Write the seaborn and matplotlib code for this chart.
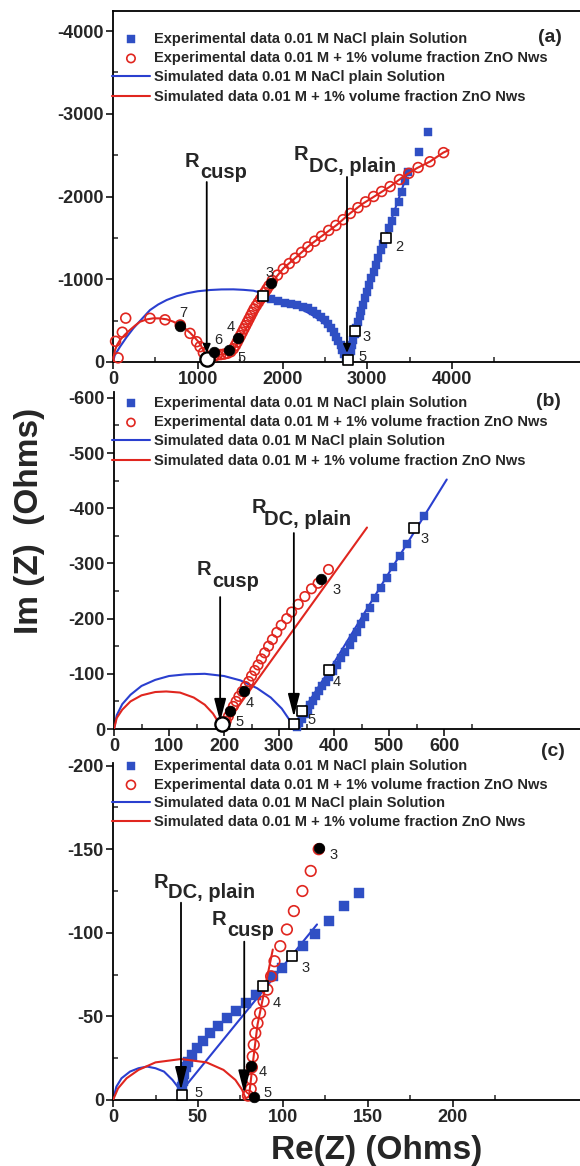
import matplotlib
matplotlib.use("Agg")
import matplotlib.pyplot as plt
import seaborn as sns

# ---------------- panel (a) ----------------
a_plain_exp_x = [1790, 1870, 1950, 2030, 2100, 2170, 2240, 2300, 2360, 2410, 2460, 2500, 2540, 2575, 2605,
                 2635, 2660, 2685, 2705, 2725, 2745, 2790, 2805, 2820, 2835, 2850, 2870, 2890, 2910, 2930,
                 2950, 2975, 3000, 3025, 3050, 3075, 3100, 3130, 3160, 3190, 3260, 3290, 3330, 3370, 3410,
                 3450, 3485, 3610, 3715]
a_plain_exp_y = [-790, -760, -735, -715, -700, -690, -670, -650, -620, -585, -545, -505, -460, -410, -360,
                 -305, -255, -200, -150, -100, -55, -60, -130, -200, -270, -340, -410, -480, -550, -620,
                 -690, -770, -850, -930, -1010, -1090, -1170, -1260, -1350, -1430, -1620, -1700, -1810, -1930, -2060,
                 -2190, -2300, -2540, -2780]
a_zno_exp_x = [60, 30, 110, 150, 437, 614, 793, 909, 987, 1027, 1066, 1095,
               1150, 1190, 1230, 1270, 1310, 1350, 1390, 1420, 1445, 1465, 1485, 1505, 1525, 1545, 1565, 1585,
               1605, 1625, 1645, 1665, 1690, 1715, 1740, 1765, 1790, 1815, 1840,
               1880, 1940, 2010, 2080, 2150, 2225, 2300, 2380, 2460, 2545, 2630, 2715, 2800, 2890, 2980, 3075,
               3170, 3270, 3380, 3490, 3600, 3740, 3900]
a_zno_exp_y = [-50, -250, -360, -530, -528, -510, -447, -346, -245, -185, -113, -50,
               -45, -70, -85, -90, -95, -105, -125, -160, -200, -240, -280, -320, -360, -400, -440, -480,
               -520, -560, -600, -640, -680, -720, -760, -800, -840, -880, -920,
               -985, -1050, -1125, -1190, -1255, -1325, -1390, -1460, -1520, -1590, -1650, -1720, -1795, -1865, -1935, -2000,
               -2060, -2120, -2205, -2280, -2350, -2420, -2530]
a_plain_sim_x = [0, 20, 83, 160, 240, 340, 437, 533, 633, 750, 870, 1000, 1145, 1280, 1420, 1540, 1656, 1774,
                 1900, 2050, 2200, 2330, 2450, 2550, 2630, 2690, 2735, 2765, 2790, 2820, 2950, 3100, 3250, 3380, 3490]
a_plain_sim_y = [0, -80, -185, -300, -407, -520, -628, -695, -749, -795, -830, -855, -870, -877, -878, -872, -862, -830,
                 -770, -710, -650, -580, -500, -410, -310, -210, -110, -30, -10, -150, -600, -1120, -1620, -2000, -2330]
a_zno_sim_x = [0, 10, 24, 50, 83, 140, 200, 260, 319, 400, 476, 550, 633, 710, 790, 850, 909, 960, 1007, 1040,
               1066, 1090, 1105, 1115, 1145, 1180, 1223, 1280, 1341, 1390, 1420, 1460, 1499, 1550, 1597, 1650,
               1696, 1745, 1794, 1850, 1920, 2010, 2167, 2324, 2481, 2640, 2797, 2953, 3111, 3268, 3426, 3583,
               3740, 3898, 3960]
a_zno_sim_y = [0, -70, -145, -210, -266, -330, -387, -440, -487, -515, -528, -527, -516, -488, -447, -405, -354, -300, -245, -195,
               -145, -95, -50, -15, -32, -60, -85, -92, -97, -115, -145, -210, -286, -370, -447, -530,
               -608, -700, -789, -880, -1020, -1131, -1272, -1414, -1535, -1656, -1797, -1917, -2018, -2119, -2240, -2341,
               -2422, -2531, -2560]
a_white_sq_x = [1770, 2773, 2860, 3225]
a_white_sq_y = [-800, -30, -380, -1500]
a_white_circ_x = [1106]
a_white_circ_y = [-40]
a_black_x = [793, 1195, 1370, 1475, 1865]
a_black_y = [-440, -120, -150, -295, -950]
a_freq_text = ["7", "6", "5", "4", "3", "3", "2", "5"]
a_freq_x = [835, 1244, 1516, 1384, 1847, 2993, 3380, 2940]
a_freq_y = [-590, -266, -48, -427, -1072, -306, -1393, -64]

# ---------------- panel (b) ----------------
b_plain_exp_x = [332, 337, 342, 347, 352, 357, 362, 367, 373, 379, 385, 391, 398, 405, 412, 420, 429, 435, 441, 449,
                 456, 465, 475, 485, 496, 508, 520, 532, 564]
b_plain_exp_y = [-4, -11, -19, -27, -35, -43, -51, -59, -68, -77, -86, -95, -105, -116, -128, -140, -152, -164, -176, -190,
                 -203, -219, -237, -255, -273, -293, -313, -336, -386]
b_zno_exp_x = [200, 204, 208, 212, 217, 222, 227, 233, 239, 245, 250, 256, 262, 268, 274, 281, 288, 296, 304, 314,
               323, 335, 347, 359, 371, 390]
b_zno_exp_y = [-5, -14, -23, -32, -41, -50, -59, -68, -77, -86, -96, -106, -116, -127, -138, -150, -162, -175, -188, -200,
               -212, -226, -240, -254, -264, -289]
b_plain_sim_x = [0, 5, 15, 30, 50, 75, 100, 130, 165, 200, 230, 260, 285, 305, 318, 326, 400, 500, 605]
b_plain_sim_y = [0, -25, -45, -62, -78, -89, -96, -99, -100, -96, -88, -74, -57, -37, -18, -5, -120, -283, -452]
b_zno_sim_x = [0, 5, 15, 30, 50, 75, 95, 120, 145, 165, 180, 190, 195, 200, 460]
b_zno_sim_y = [0, -20, -35, -50, -61, -67, -68, -66, -57, -44, -28, -12, -3, -5, -365]
b_white_sq_x = [327, 341, 391, 546]
b_white_sq_y = [-9, -33, -106, -364]
b_white_circ_x = [196]
b_white_circ_y = [-9]
b_black_x = [211, 236, 376]
b_black_y = [-33, -68, -271]
b_freq_text = ["3", "4", "5", "3", "4", "5"]
b_freq_x = [404, 247, 229, 565, 405, 359]
b_freq_y = [-252, -47, -13, -345, -86, -16]

# ---------------- panel (c) ----------------
c_plain_exp_x = [40.6, 41, 42, 43.2, 44.3, 46.5, 49.7, 53, 57.3, 61.6, 67, 72.4, 78.5, 84.3, 94, 99.5, 112, 119,
                 127, 136, 145]
c_plain_exp_y = [-7.6, -11.5, -15.5, -19.5, -23, -27, -31, -35, -40, -44, -49, -53, -58, -62.7, -74, -79, -92, -99,
                 -107, -116, -123.6]
c_zno_exp_x = [79.4, 81, 81.5, 81.7, 82.2, 82.8, 83.7, 85, 86.5, 88.6, 90.8, 93, 95, 98.4, 102.3, 106.4, 111.4,
               116.3, 121]
c_zno_exp_y = [-2.6, -6.6, -12.5, -19.5, -26, -33, -40, -46, -52, -59, -66, -74, -83, -92, -102, -113, -125,
               -137, -150]
c_plain_sim_x = [0, 2, 5, 10, 15, 20, 25, 30, 35, 38, 40, 120]
c_plain_sim_y = [0, -8, -13, -17, -19, -20, -19, -17, -12, -8, -5, -105]
c_zno_sim_x = [0, 3, 8, 15, 25, 40, 55, 65, 72, 76, 78, 80, 82, 85, 90, 94]
c_zno_sim_y = [0, -7, -13, -18, -22.5, -24.5, -22.5, -18, -12, -6, -1, -2, -20, -45, -70, -90]
c_white_sq_x = [40.4, 88, 105.5]
c_white_sq_y = [-3, -68, -86]
c_white_circ_x = []
c_white_circ_y = []
c_black_x = [81, 82.8, 121]
c_black_y = [-20.5, -1.6, -151]
c_freq_text = ["3", "4", "5", "3", "4", "5"]
c_freq_x = [113.5, 96.2, 50.4, 129.8, 88, 90.8]
c_freq_y = [-79, -58, -4.4, -146.5, -17, -4.4]

legend_labels = [
    "Experimental data 0.01 M NaCl plain Solution",
    "Experimental data 0.01 M + 1% volume fraction ZnO Nws",
    "Simulated data 0.01 M NaCl plain Solution",
    "Simulated data 0.01 M + 1% volume fraction ZnO Nws",
]

BLUE = "#2f4fc4"
BLUE_LINE = "#2a3fcf"
RED = "#e0261f"

W, H = 580, 1166


def fig_rect(left, top, right, bottom):
    return [left / W, 1 - bottom / H, (right - left) / W, (bottom - top) / H]


def draw_panel(fig, p):
    ax = fig.add_axes(fig_rect(*p["box"]))
    sns.lineplot(x=p["plain_sim"][0], y=p["plain_sim"][1], sort=False, estimator=None,
                 color=BLUE_LINE, linewidth=1.5, ax=ax, label=legend_labels[2], zorder=2)
    sns.scatterplot(x=p["plain_exp"][0], y=p["plain_exp"][1], marker="s", s=p["sq_size"],
                    color=BLUE, edgecolor=BLUE, linewidth=0.3, ax=ax, label=legend_labels[0],
                    clip_on=False, zorder=3)
    sns.scatterplot(x=p["zno_exp"][0], y=p["zno_exp"][1], marker="o", s=p["circ_size"],
                    color=RED, facecolor="none", edgecolor=RED, linewidth=1.2, ax=ax,
                    label=legend_labels[1], clip_on=False, zorder=4)
    sns.lineplot(x=p["zno_sim"][0], y=p["zno_sim"][1], sort=False, estimator=None,
                 color=RED, linewidth=1.5, ax=ax, label=legend_labels[3], zorder=5)

    sns.scatterplot(x=p["white_sq"][0], y=p["white_sq"][1], marker="s", s=58, color="white",
                    edgecolor="black", linewidth=1.2, ax=ax, legend=False, clip_on=False, zorder=7)
    if p["white_circ"][0]:
        sns.scatterplot(x=p["white_circ"][0], y=p["white_circ"][1], marker="o", s=105, color="white",
                        edgecolor="black", linewidth=1.7, ax=ax, legend=False, clip_on=False, zorder=7)
    sns.scatterplot(x=p["black"][0], y=p["black"][1], marker="o", s=58, color="black",
                    edgecolor="black", linewidth=0.5, ax=ax, legend=False, clip_on=False, zorder=7)

    for t, x, y in zip(*p["freq"]):
        ax.text(x, y, t, ha="center", va="center", fontsize=10.5, fontweight="normal", zorder=8)

    for (rx, ry), (sx, sy), sub, (ax_x, top, tip), head in p["notes"]:
        ax.text(rx, ry, "R", fontsize=14.5, fontweight="bold", ha="left", va="baseline")
        ax.text(sx, sy, sub, fontsize=14.5, fontweight="bold", ha="left", va="baseline")
        ax.annotate("", xy=(ax_x, tip), xytext=(ax_x, top),
                    arrowprops=dict(arrowstyle=f"-|>,head_length={head[0]},head_width={head[1]}",
                                    color="black", lw=1.3, shrinkA=0, shrinkB=0), zorder=9)

    ax.set_xlim(0, p["xmax"])
    ax.set_ylim(0, p["ytop"])
    ax.set_xticks(p["xticks"])
    ax.set_xticks(p["xminor"], minor=True)
    ax.set_yticks(p["yticks"])
    ax.set_yticks(p["yminor"], minor=True)
    ax.tick_params(which="major", direction="out", length=5, width=1.3, labelsize=13, pad=1.5)
    ax.tick_params(which="minor", direction="in", length=3.5, width=1.1)
    ax.set_xlabel("")
    ax.set_ylabel("")
    ax.spines["right"].set_visible(False)
    ax.spines["top"].set_visible(p["top_spine"])
    for s in ax.spines.values():
        s.set_linewidth(1.3)
        s.set_color("black")

    handles, labels = ax.get_legend_handles_labels()
    lookup = dict(zip(labels, handles))
    ax.legend([lookup[l] for l in legend_labels], legend_labels, loc="upper left",
              bbox_to_anchor=(112 / W, 1 - p["legend_top"] / H), bbox_transform=fig.transFigure,
              frameon=False, handlelength=2.6, handletextpad=0.28,
              labelspacing=p["lab_sp"], borderpad=0, borderaxespad=0, markerscale=0.85,
              prop={"weight": "bold", "size": 10.5})
    fig.text(p["tag"][0] / W, 1 - p["tag"][1] / H, p["tag"][2], fontsize=14, fontweight="bold",
             ha="center", va="center")
    return ax


sns.set_style("ticks")
plt.rcParams["font.family"] = ["Liberation Sans", "DejaVu Sans"]
plt.rcParams["font.weight"] = "bold"
plt.rcParams["axes.unicode_minus"] = False

panels = [
    dict(box=(113, 11, 600, 362), xmax=(600 - 113) / 0.08475, ytop=-(362 - 11) / 0.08275,
         xticks=[0, 1000, 2000, 3000, 4000], xminor=[500, 1500, 2500, 3500, 4500],
         yticks=[0, -1000, -2000, -3000, -4000], yminor=[-500, -1500, -2500, -3500],
         top_spine=True, legend_top=32, lab_sp=0.36, tag=(550, 37, "(a)"), sq_size=40, circ_size=50,
         plain_exp=(a_plain_exp_x, a_plain_exp_y), zno_exp=(a_zno_exp_x, a_zno_exp_y),
         plain_sim=(a_plain_sim_x, a_plain_sim_y), zno_sim=(a_zno_sim_x, a_zno_sim_y),
         white_sq=(a_white_sq_x, a_white_sq_y), white_circ=(a_white_circ_x, a_white_circ_y),
         black=(a_black_x, a_black_y), freq=(a_freq_text, a_freq_x, a_freq_y),
         notes=[((844, -2357), (1032, -2224), "cusp", (1106, -2175, -110), (0.5, 0.22)),
                ((2132, -2441), (2308, -2300), "DC, plain", (2761, -2236, -110), (0.5, 0.22))]),
    dict(box=(114, 392, 600, 729), xmax=(600 - 114) / 0.55, ytop=-(729 - 392) / 0.552,
         xticks=[0, 100, 200, 300, 400, 500, 600], xminor=[50, 150, 250, 350, 450, 550, 650],
         yticks=[0, -100, -200, -300, -400, -500, -600], yminor=[-50, -150, -250, -350, -450, -550],
         top_spine=False, legend_top=396, lab_sp=0.36, tag=(548, 402, "(b)"), sq_size=40, circ_size=46,
         plain_exp=(b_plain_exp_x, b_plain_exp_y), zno_exp=(b_zno_exp_x, b_zno_exp_y),
         plain_sim=(b_plain_sim_x, b_plain_sim_y), zno_sim=(b_zno_sim_x, b_zno_sim_y),
         white_sq=(b_white_sq_x, b_white_sq_y), white_circ=(b_white_circ_x, b_white_circ_y),
         black=(b_black_x, b_black_y), freq=(b_freq_text, b_freq_x, b_freq_y),
         notes=[((150, -279), (178, -258), "cusp", (193, -239, -13), (1.4, 0.36)),
                ((251, -391), (273, -370), "DC, plain", (327, -355, -22), (1.4, 0.36))]),
    dict(box=(113, 763, 600, 1100), xmax=(600 - 113) / 1.7, ytop=-(1100 - 763) / 1.672,
         xticks=[0, 50, 100, 150, 200], xminor=[25, 75, 125, 175, 225],
         yticks=[0, -50, -100, -150, -200], yminor=[-25, -75, -125, -175],
         top_spine=False, legend_top=759, lab_sp=0.32, tag=(553, 752, "(c)"), sq_size=46, circ_size=58,
         plain_exp=(c_plain_exp_x, c_plain_exp_y), zno_exp=(c_zno_exp_x, c_zno_exp_y),
         plain_sim=(c_plain_sim_x, c_plain_sim_y), zno_sim=(c_zno_sim_x, c_zno_sim_y),
         white_sq=(c_white_sq_x, c_white_sq_y), white_circ=(c_white_circ_x, c_white_circ_y),
         black=(c_black_x, c_black_y), freq=(c_freq_text, c_freq_x, c_freq_y),
         notes=[((23.8, -127), (32.4, -121), "DC, plain", (40, -118, -6), (1.4, 0.36)),
                ((58.2, -104.7), (67, -98), "cusp", (77.2, -94.7, -4), (1.4, 0.36))]),
]

fig = plt.figure(figsize=(W / 100, H / 100), dpi=100)
for p in panels:
    draw_panel(fig, p)

fig.text(30 / W, 1 - 521 / H, "Im (Z)  (Ohms)", rotation=90, fontsize=24, fontweight="bold",
         ha="center", va="center")
fig.text(377 / W, 1 - 1150 / H, "Re(Z) (Ohms)", fontsize=24, fontweight="bold",
         ha="center", va="center")

fig.savefig("out.png", dpi=100)
